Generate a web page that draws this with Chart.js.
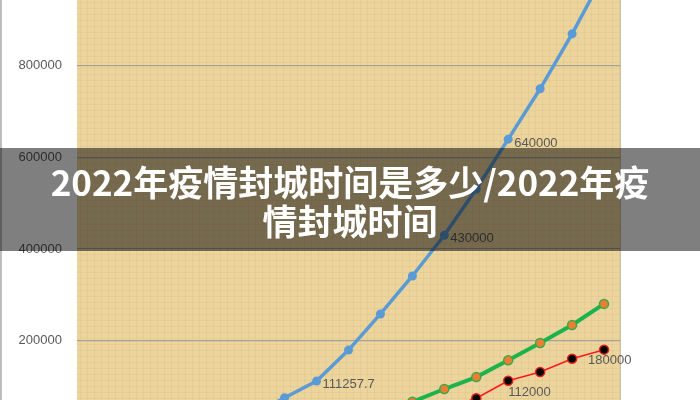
<!DOCTYPE html>
<html>
<head>
<meta charset="utf-8">
<script src="https://cdn.jsdelivr.net/npm/chart.js@4/dist/chart.umd.min.js"></script>
<style>
  html, body { margin: 0; padding: 0; background: #ffffff; }
  #wrap { position: relative; width: 700px; height: 400px; overflow: hidden; }
  #c { position: absolute; left: 0; top: 0; }
  #band { position: absolute; left: 0; top: 148px; width: 700px; height: 103px; background: rgba(0,0,0,0.5); }
  #title { position: absolute; left: 0; top: 161px; width: 700px; text-align: center;
           font-family: "Noto Sans CJK SC", "Noto Sans", sans-serif; font-weight: 700;
           font-size: 35px; line-height: 39px; color: #ffffff; }
</style>
</head>
<body>
<div id="wrap">
  <canvas id="c" width="700" height="400"></canvas>
  <div id="band"></div>
  <div id="title">2022年疫情封城时间是多少/2022年疫<br>情封城时间</div>
</div>
<script>
// ---- data ----
const categories = ["1","2","3","4","5","6","7","8","9","10","11","12","13","14","15","16","17"];
const blueSeries  = [3000, 6000, 10000, 16000, 25000, 38000, 75000, 111257.7, 179000, 258000, 341000, 430000, 531000, 640000, 750000, 870000, 1000000];
const greenSeries = [4000, 7000, 10000, 14000, 19000, 25000, 31000, 37000, 43000, 50000, 66000, 94000, 120000, 157000, 194500, 234000, 280000];
const redSeries   = [2000, 3000, 5000, 7000, 10000, 13000, 17000, 22000, 28000, 35000, 42000, 50000, 74000, 112000, 131000, 160000, 180000];
const yTickValues = [200000, 400000, 600000, 800000];
// which points carry a value label
const labeledPoints = [
  { series: 0, index: 7 },
  { series: 0, index: 11 },
  { series: 0, index: 13 },
  { series: 2, index: 13 },
  { series: 2, index: 16 }
];

const labelStyle = [
  { dx: 6, dy: 3, align: 'left' },
  { dx: 6, dy: 3, align: 'left' },
  { dx: 6, dy: 4, align: 'left' },
  { dx: 0, dy: 12, align: 'left' },
  { dx: -16, dy: 11, align: 'left' }
];

const backgroundPlugin = {
  id: 'bg',
  beforeDraw(chart) {
    const ctx = chart.ctx, a = chart.chartArea;
    ctx.save();
    ctx.fillStyle = '#ffffff';
    ctx.fillRect(0, 0, chart.width, chart.height);
    ctx.fillStyle = '#ecd49d';
    ctx.fillRect(a.left, a.top, a.right - a.left, a.bottom - a.top);
    // subtle woven texture
    ctx.globalAlpha = 0.06;
    ctx.strokeStyle = '#8a6a2a';
    ctx.lineWidth = 1;
    for (let x = a.left + 3; x < a.right; x += 7) {
      ctx.beginPath(); ctx.moveTo(x + 0.5, a.top); ctx.lineTo(x + 0.5, a.bottom); ctx.stroke();
    }
    for (let y = a.top + 2; y < a.bottom; y += 6) {
      ctx.beginPath(); ctx.moveTo(a.left, y + 0.5); ctx.lineTo(a.right, y + 0.5); ctx.stroke();
    }
    ctx.globalAlpha = 1;
    // outer left border and right plot edge
    ctx.strokeStyle = '#bdbdbd';
    ctx.lineWidth = 2;
    ctx.beginPath(); ctx.moveTo(1, 0); ctx.lineTo(1, chart.height); ctx.stroke();
    ctx.strokeStyle = '#c9c0a8';
    ctx.lineWidth = 1;
    ctx.beginPath(); ctx.moveTo(a.right + 0.5, a.top); ctx.lineTo(a.right + 0.5, a.bottom); ctx.stroke();
    ctx.restore();
  }
};

const labelPlugin = {
  id: 'valueLabels',
  afterDatasetsDraw(chart) {
    const ctx = chart.ctx;
    ctx.save();
    ctx.font = '13px "Liberation Sans", Arial, sans-serif';
    ctx.fillStyle = '#595959';
    ctx.textBaseline = 'middle';
    labeledPoints.forEach((lp, i) => {
      const meta = chart.getDatasetMeta(lp.series);
      const el = meta.data[lp.index];
      const v = chart.data.datasets[lp.series].data[lp.index];
      const s = labelStyle[i];
      ctx.textAlign = s.align;
      ctx.fillText(String(v), el.x + s.dx, el.y + s.dy);
    });
    ctx.restore();
  }
};

new Chart(document.getElementById('c'), {
  type: 'line',
  data: {
    labels: categories,
    datasets: [
      {
        data: blueSeries,
        borderColor: '#5b9bd5', backgroundColor: '#5b9bd5',
        borderWidth: 3.5, pointRadius: 4.5, pointBorderWidth: 0,
        pointBackgroundColor: '#5b9bd5', tension: 0
      },
      {
        data: greenSeries,
        borderColor: '#1db34c', backgroundColor: '#ed7d31',
        borderWidth: 4, pointRadius: 4.5, pointBorderWidth: 1.5,
        pointBorderColor: '#3aa94a', pointBackgroundColor: '#ed7d31', tension: 0
      },
      {
        data: redSeries,
        borderColor: '#ff1a1a', backgroundColor: '#000000',
        borderWidth: 1.6, pointRadius: 4.5, pointBorderWidth: 1.5,
        pointBorderColor: '#e0201a', pointBackgroundColor: '#000000', tension: 0
      }
    ]
  },
  options: {
    responsive: false,
    animation: false,
    events: [],
    layout: { autoPadding: false, padding: { left: 0, right: 80, top: 0, bottom: 0 } },
    plugins: { legend: { display: false }, tooltip: { enabled: false }, title: { display: false } },
    scales: {
      x: { type: 'category', display: false, offset: true },
      y: {
        min: 70000, max: 944000,
        ticks: {
          stepSize: 200000, padding: 15, color: '#595959',
          font: { family: '"Liberation Sans", Arial, sans-serif', size: 13 },
          callback: (v) => String(v)
        },
        grid: { color: '#a8a296', lineWidth: 1.2, drawTicks: false },
        border: { display: false },
        afterBuildTicks(scale) {
          scale.ticks = yTickValues.map(v => ({ value: v }));
        },
        afterFit(scale) {
          scale.width = 77;
          scale.paddingTop = 0;
          scale.paddingBottom = 0;
        }
      }
    }
  },
  plugins: [backgroundPlugin, labelPlugin]
});
</script>
</body>
</html>
